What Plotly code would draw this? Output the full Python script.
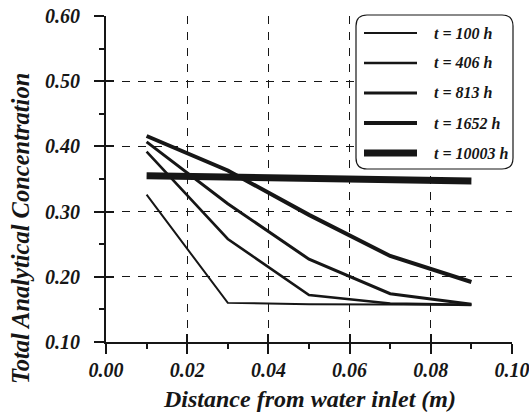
import plotly.graph_objects as go

# Distance from the water inlet (m) at which the concentration was sampled
distance = [0.01, 0.03, 0.05, 0.07, 0.09]

# Total analytical concentration profiles at successive times
conc_100 = [0.326, 0.160, 0.158, 0.157, 0.157]
conc_406 = [0.392, 0.258, 0.172, 0.159, 0.157]
conc_813 = [0.407, 0.312, 0.227, 0.174, 0.158]
conc_1652 = [0.416, 0.363, 0.295, 0.232, 0.192]
conc_10003 = [0.355, 0.353, 0.351, 0.349, 0.347]

series_names = ["t = 100 h", "t = 406 h", "t = 813 h", "t = 1652 h", "t = 10003 h"]
series_values = [conc_100, conc_406, conc_813, conc_1652, conc_10003]
line_widths = [2.0, 2.6, 3.0, 4.0, 7.0]

x_ticks = [0.00, 0.02, 0.04, 0.06, 0.08, 0.10]
y_ticks = [0.10, 0.20, 0.30, 0.40, 0.50, 0.60]

INK = "#161616"
FONT = '"Liberation Serif", "Times New Roman", Times, serif'

W, H = 529, 412
ML, MR, MT, MB = 106, 17, 16, 70
PW, PH = W - ML - MR, H - MT - MB
EPS = 1e-7


def paper_x(px):
    return (px - ML) / PW


def paper_y(py):
    return (H - MB - py) / PH


fig = go.Figure()
for name, vals, lw in zip(series_names, series_values, line_widths):
    fig.add_trace(go.Scatter(
        x=distance, y=vals, name=name, mode="lines",
        line=dict(color=INK, width=lw), showlegend=False,
    ))

# empty trace carrying the overlay axes used for the inner half of the major ticks
fig.add_trace(go.Scatter(x=[None], y=[None], xaxis="x2", yaxis="y2",
                         showlegend=False, hoverinfo="skip"))

tick_font = dict(family=FONT, size=20, color=INK, weight="bold", style="italic")

axis_common = dict(
    showline=True, linecolor=INK, linewidth=2,
    ticks="outside", ticklen=10, tickwidth=2, tickcolor=INK,
    showgrid=True, gridcolor=INK, gridwidth=1, griddash="8px,8px",
    zeroline=False, tickfont=tick_font, mirror=False,
    ticklabeloverflow="allow",
)

x_range = [0 - EPS, 0.1 + EPS]
y_range = [0.1 - EPS, 0.6 + EPS]

fig.update_layout(
    width=W, height=H,
    margin=dict(l=ML, r=MR, t=MT, b=MB, autoexpand=False),
    paper_bgcolor="white", plot_bgcolor="white",
    showlegend=False,
    xaxis=dict(range=x_range, tickvals=x_ticks, tickformat=".2f",
               ticklabelstandoff=-1,
               minor=dict(ticks="outside", ticklen=5, tickwidth=2,
                          tickcolor=INK, dtick=0.01, tick0=0, showgrid=False),
               **axis_common),
    yaxis=dict(range=y_range, tickvals=y_ticks, tickformat=".2f",
               ticklabelstandoff=10,
               minor=dict(ticks="outside", ticklen=5, tickwidth=2,
                          tickcolor=INK, dtick=0.05, tick0=0.1, showgrid=False),
               **axis_common),
    xaxis2=dict(range=x_range, overlaying="x", anchor="y2", tickvals=x_ticks,
                ticks="inside", ticklen=8, tickwidth=2, tickcolor=INK,
                showticklabels=False, showgrid=False, showline=False, zeroline=False),
    yaxis2=dict(range=y_range, overlaying="y", anchor="x2", tickvals=y_ticks,
                ticks="inside", ticklen=8, tickwidth=2, tickcolor=INK,
                showticklabels=False, showgrid=False, showline=False, zeroline=False),
)

title_font = dict(family=FONT, size=24, color=INK, weight="bold", style="italic")
fig.add_annotation(text="Distance from water inlet (m)", xref="paper", yref="paper",
                   x=paper_x(309), y=paper_y(399), showarrow=False,
                   font=title_font, xanchor="center", yanchor="middle")
fig.add_annotation(text="Total Analytical Concentration", xref="paper", yref="paper",
                   x=paper_x(20), y=paper_y(229), showarrow=False, textangle=-90,
                   font=dict(title_font, size=24.5), xanchor="center", yanchor="middle")

# legend: rounded white box with a sample stroke and label per series
bx0, bx1, by0, by1, r = 356, 513, 15, 169, 11
x0, x1 = paper_x(bx0), paper_x(bx1)
y0, y1 = paper_y(by1), paper_y(by0)
rx, ry = r / PW, r / PH
path = (f"M {x0 + rx},{y0} L {x1 - rx},{y0} Q {x1},{y0} {x1},{y0 + ry} "
        f"L {x1},{y1 - ry} Q {x1},{y1} {x1 - rx},{y1} "
        f"L {x0 + rx},{y1} Q {x0},{y1} {x0},{y1 - ry} "
        f"L {x0},{y0 + ry} Q {x0},{y0} {x0 + rx},{y0} Z")
fig.add_shape(type="path", path=path, xref="paper", yref="paper",
              fillcolor="white", line=dict(color=INK, width=1.2), layer="above")

legend_font = dict(family=FONT, size=16, color=INK, weight="bold", style="italic")
row0, row_step = 33, 30
for i, (name, lw) in enumerate(zip(series_names, line_widths)):
    ry_px = row0 + i * row_step
    fig.add_shape(type="line", xref="paper", yref="paper",
                  x0=paper_x(364), x1=paper_x(417), y0=paper_y(ry_px), y1=paper_y(ry_px),
                  line=dict(color=INK, width=lw), layer="above")
    fig.add_annotation(text=name, xref="paper", yref="paper",
                       x=paper_x(432), y=paper_y(ry_px), showarrow=False,
                       xanchor="left", yanchor="middle", font=legend_font)

fig.write_html("out.html")
